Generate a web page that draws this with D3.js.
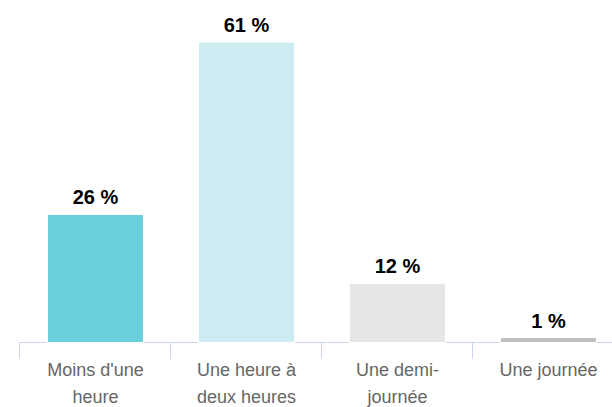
<!DOCTYPE html>
<meta charset="utf-8">
<style>
  body { margin: 0; background: #fff; }
  text { font-family: "Liberation Sans", Arial, sans-serif; }
</style>
<body>
  <svg width="612" height="407"></svg>
  <script src="https://cdn.jsdelivr.net/npm/d3@7"></script>
  <script>
    // data
    const categories = ["Moins d'une heure", "Une heure à deux heures", "Une demi-journée", "Une journée"];
    const labelLines = [["Moins d'une", "heure"], ["Une heure à", "deux heures"], ["Une demi-", "journée"], ["Une journée"]];
    const values = [26, 61, 12, 1];
    const colors = ["#6ad1dc", "#cdecf1", "#e6e6e6", "#bfbfbf"];

    const svg = d3.select("svg"),
      baseY = 342.5,
      x0 = 19;

    // one band per category, bars inset inside
    const x = d3.scaleBand()
      .domain(categories)
      .range([x0, x0 + 151 * 4])
      .padding(0);

    const barW = 96;
    const inset = (x.step() - barW) / 2 + 1;

    const y = d3.scaleLinear()
      .domain([0, 61])
      .range([baseY, 42]);

    // axis line and ticks
    svg.append("line")
      .attr("x1", x0).attr("x2", 612)
      .attr("y1", 342.5).attr("y2", 342.5)
      .attr("stroke", "#ccd6eb");

    svg.selectAll(".tick")
      .data(categories)
      .enter().append("line")
      .attr("class", "tick")
      .attr("x1", d => Math.round(x(d)) + 0.5)
      .attr("x2", d => Math.round(x(d)) + 0.5)
      .attr("y1", 342)
      .attr("y2", 359)
      .attr("stroke", "#ccd6eb");

    // bars (white border covers the axis line, as in the original)
    svg.selectAll(".bar")
      .data(categories)
      .enter().append("rect")
      .attr("class", "bar")
      .attr("x", d => x(d) + inset)
      .attr("width", barW)
      .attr("y", (d, i) => y(values[i]))
      .attr("height", (d, i) => baseY - y(values[i]))
      .attr("fill", (d, i) => colors[i])
      .attr("stroke", "#fff")
      .attr("stroke-width", 1);

    // category labels
    const lab = svg.selectAll(".cat")
      .data(categories)
      .enter().append("text")
      .attr("class", "cat")
      .attr("text-anchor", "middle")
      .attr("font-size", 18)
      .attr("fill", "#666666");

    lab.each(function (d, i) {
      const t = d3.select(this);
      labelLines[i].forEach((line, j) => {
        t.append("tspan")
          .attr("x", x(d) + x.step() / 2 + 1)
          .attr("y", 376 + j * 27)
          .text(line);
      });
    });

    // data labels
    svg.selectAll(".val")
      .data(categories)
      .enter().append("text")
      .attr("class", "val")
      .attr("text-anchor", "middle")
      .attr("font-size", 20)
      .attr("font-weight", "bold")
      .attr("fill", "#000")
      .attr("x", d => x(d) + x.step() / 2 + 1)
      .attr("y", (d, i) => y(values[i]) - 10)
      .text((d, i) => values[i] + " %");
  </script>
</body>
